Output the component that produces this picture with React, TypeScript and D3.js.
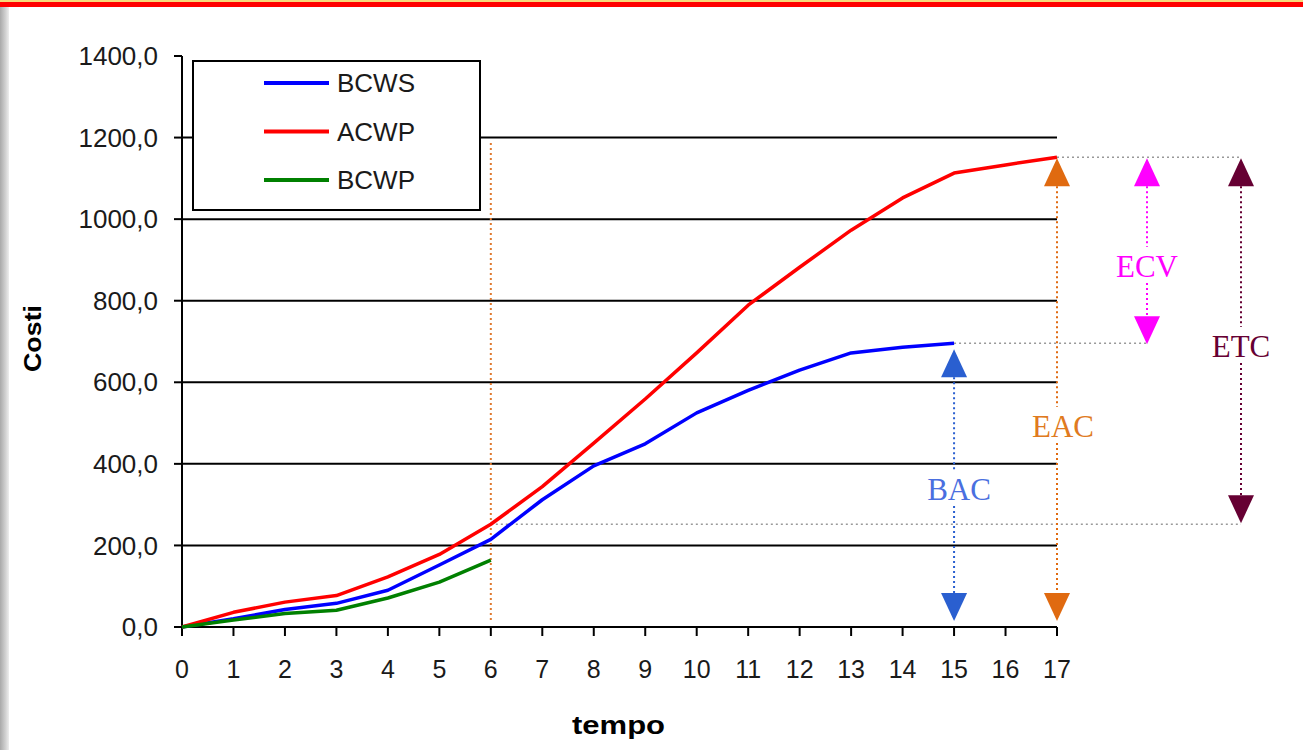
import React from "react";
import * as d3 from "d3";

const periods = d3.range(0, 18);
const bcws = [0, 20, 43, 58, 90, 152, 215, 312, 395, 449, 525, 580, 630, 672, 686, 696];
const acwp = [0, 36, 61, 77, 123, 178, 252, 344, 451, 559, 672, 789, 882, 973, 1052, 1113, 1133, 1152];
const bcwp = [0, 17, 33, 41, 71, 110, 164];
const yTicks = [0, 200, 400, 600, 800, 1000, 1200, 1400];
const gridValues = [200, 400, 600, 800, 1000, 1200];
const seriesNames = ["BCWS", "ACWP", "BCWP"];
const seriesColors = ["#0000ff", "#ff0000", "#008000"];

const W = 1303;
const H = 750;

export default function App() {
  const x = d3.scaleLinear().domain([0, 17]).range([182, 1057]);
  const y = d3.scaleLinear().domain([0, 1400]).range([627, 56]);
  const line = d3
    .line<number>()
    .x((_, i) => x(i))
    .y((d) => y(d));
  const series = [bcws, acwp, bcwp];
  const fmt = (v: number) => v.toFixed(1).replace(".", ",");
  const sans = "'Liberation Sans', Arial, sans-serif";
  const serif = "'Liberation Serif', 'Times New Roman', serif";

  const tri = (cx: number, tip: number, up: boolean, color: string) => {
    const h = 28;
    const hw = 13;
    const b = up ? tip + h : tip - h;
    return <path d={`M${cx},${tip} L${cx - hw},${b} L${cx + hw},${b} Z`} fill={color} />;
  };

  const yBot = y(0) - 6;
  const arrows = [
    { cx: x(15), top: y(bcws[15]) + 6, bot: yBot, label: "BAC", color: "#2a5fd0", text: "#4a6fe0", ly: 500, dx: 5 },
    { cx: x(17), top: y(acwp[17]) + 1, bot: yBot, label: "EAC", color: "#e06a10", text: "#e07a20", ly: 437, dx: 6 },
    { cx: x(17) + 90, top: y(acwp[17]) + 1, bot: y(bcws[15]) + 1, label: "ECV", color: "#ff00ff", text: "#ff00ff", ly: 277, dx: 0 },
    { cx: x(17) + 184, top: y(acwp[17]) + 1, bot: y(acwp[6]) - 1, label: "ETC", color: "#660033", text: "#660033", ly: 357, dx: 0 },
  ];

  return (
    <svg width={W} height={H} style={{ position: "absolute", left: 0, top: 0, background: "#fff" }}>
      <defs>
        <linearGradient id="side" x1="0" x2="1" y1="0" y2="0">
          <stop offset="0" stopColor="#a9a9a9" />
          <stop offset="0.6" stopColor="#d0d0d0" />
          <stop offset="1" stopColor="#eeeeee" />
        </linearGradient>
      </defs>
      <rect x={0} y={0} width={W} height={H} fill="#fff" />
      <rect x={0} y={0} width={9} height={H} fill="url(#side)" />
      <rect x={0} y={0} width={W} height={2} fill="#f7d97a" />
      <rect x={0} y={2} width={W} height={5} fill="#ff0000" />

      {/* gridlines */}
      {gridValues.map((v) => (
        <line key={v} x1={x(0)} x2={x(17)} y1={y(v)} y2={y(v)} stroke="#000" strokeWidth={2} />
      ))}

      {/* reference dotted lines */}
      <line x1={x(6)} x2={x(6)} y1={143} y2={y(0) - 5} stroke="#e07a30" strokeWidth={2} strokeDasharray="2 3" />
      <line x1={x(6)} x2={arrows[3].cx} y1={y(acwp[6])} y2={y(acwp[6])} stroke="#999" strokeWidth={1.5} strokeDasharray="2 3" />
      <line x1={x(15)} x2={arrows[2].cx} y1={y(bcws[15])} y2={y(bcws[15])} stroke="#999" strokeWidth={1.5} strokeDasharray="2 3" />
      <line x1={x(17)} x2={arrows[3].cx} y1={y(acwp[17])} y2={y(acwp[17])} stroke="#999" strokeWidth={1.5} strokeDasharray="2 3" />

      {/* axes */}
      <line x1={x(0)} x2={x(0)} y1={y(1400)} y2={y(0) + 9} stroke="#000" strokeWidth={2} />
      <line x1={x(0)} x2={x(17)} y1={y(0)} y2={y(0)} stroke="#000" strokeWidth={2} />
      {yTicks.map((v) => (
        <g key={v}>
          <line x1={x(0) - 8} x2={x(0)} y1={y(v)} y2={y(v)} stroke="#000" strokeWidth={2} />
          <text x={158} y={y(v)} dy="0.35em" textAnchor="end" fontFamily={sans} fontSize={26} fill="#1a1a1a">
            {fmt(v)}
          </text>
        </g>
      ))}
      {periods.map((p) => (
        <g key={p}>
          <line x1={x(p)} x2={x(p)} y1={y(0)} y2={y(0) + 9} stroke="#000" strokeWidth={2} />
          <text x={x(p)} y={678} textAnchor="middle" fontFamily={sans} fontSize={25} fill="#1a1a1a">
            {p}
          </text>
        </g>
      ))}
      <text
        x={572}
        y={734}
        textLength={93}
        lengthAdjust="spacingAndGlyphs"
        fontFamily={sans}
        fontSize={26}
        fontWeight="bold"
        fill="#000"
      >
        tempo
      </text>
      <text
        transform={`translate(41,339) rotate(-90)`}
        x={-33}
        textLength={67}
        lengthAdjust="spacingAndGlyphs"
        fontFamily={sans}
        fontSize={23}
        fontWeight="bold"
        fill="#000"
      >
        Costi
      </text>

      {/* series */}
      {series.map((s, i) => (
        <path key={i} d={line(s) || ""} fill="none" stroke={seriesColors[i]} strokeWidth={3.5} strokeLinejoin="round" />
      ))}

      {/* annotation arrows */}
      {arrows.map((a) => (
        <g key={a.label}>
          <line x1={a.cx} x2={a.cx} y1={a.top + 28} y2={a.ly - 30} stroke={a.color} strokeWidth={2} strokeDasharray="2 3" />
          <line x1={a.cx} x2={a.cx} y1={a.ly + 6} y2={a.bot - 28} stroke={a.color} strokeWidth={2} strokeDasharray="2 3" />
          {tri(a.cx, a.top, true, a.color)}
          {tri(a.cx, a.bot, false, a.color)}
          <text x={a.cx + a.dx} y={a.ly} textAnchor="middle" fontFamily={serif} fontSize={31} fill={a.text}>
            {a.label}
          </text>
        </g>
      ))}

      {/* legend */}
      <rect x={193} y={61} width={287} height={149} fill="#fff" stroke="#000" strokeWidth={2} />
      {seriesNames.map((n, i) => (
        <g key={n}>
          <line x1={264} x2={329} y1={83 + i * 48.5} y2={83 + i * 48.5} stroke={seriesColors[i]} strokeWidth={4} />
          <text x={337} y={83 + i * 48.5} dy="0.36em" fontFamily={sans} fontSize={26} fill="#1a1a1a">
            {n}
          </text>
        </g>
      ))}
    </svg>
  );
}
